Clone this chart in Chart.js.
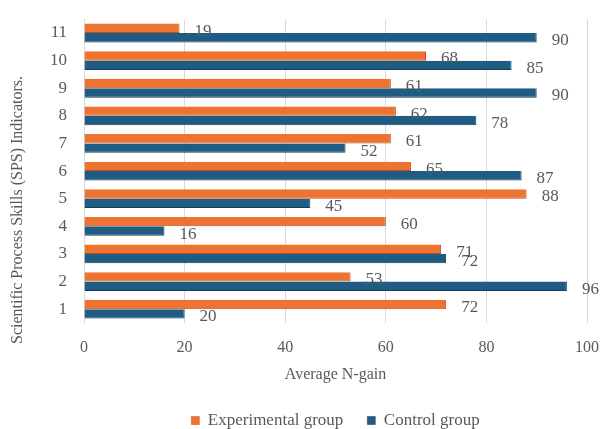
<!DOCTYPE html>
<html>
<head>
<meta charset="utf-8">
<script src="https://cdn.jsdelivr.net/npm/chart.js@4"></script>
<style>
  html, body { margin: 0; padding: 0; background: #fff; }
  #wrap { width: 600px; height: 429px; position: relative; }
</style>
</head>
<body>
<div id="wrap"><canvas id="chart"></canvas></div>
<script>
// data
const indicators = ['1', '2', '3', '4', '5', '6', '7', '8', '9', '10', '11'];
const experimental = [72, 53, 71, 60, 88, 65, 61, 62, 61, 68, 19];
const control = [20, 96, 72, 16, 45, 87, 52, 78, 90, 85, 90];
const xTicks = [0, 20, 40, 60, 80, 100];
const yTitle = 'Scientific Process Skills (SPS) Indicators.';

const serif = "'Liberation Serif', 'DejaVu Serif', serif";
const grey = '#595959';
Chart.defaults.font.family = serif;
Chart.defaults.color = grey;

// value labels at the end of each bar + the rotated y title
const barLabels = {
    id: 'barLabels',
    afterDatasetsDraw(chart) {
        const ctx = chart.ctx;
        ctx.save();
        ctx.font = '17px ' + serif;
        ctx.fillStyle = grey;
        ctx.textAlign = 'left';
        ctx.textBaseline = 'middle';
        chart.data.datasets.forEach((ds, i) => {
            chart.getDatasetMeta(i).data.forEach((bar, j) => {
                ctx.fillText(ds.data[j], bar.x + 15, bar.y + 3);
            });
        });
        // y axis title
        ctx.translate(18, 210);
        ctx.rotate(-Math.PI / 2);
        ctx.textAlign = 'center';
        ctx.font = '16px ' + serif;
        ctx.fillText(yTitle, 0, 0);
        ctx.restore();
    }
};

new Chart(document.getElementById('chart'), {
    type: 'bar',
    data: {
        labels: indicators,
        datasets: [
            { label: 'Experimental group', data: experimental, backgroundColor: '#EF7330', borderColor: '#B8521E', borderWidth: { right: 1, bottom: 1 }, borderSkipped: 'start' },
            { label: 'Control group', data: control, backgroundColor: '#1F5C83', borderColor: '#123E5C', borderWidth: { right: 1, bottom: 1 }, borderSkipped: 'start' }
        ]
    },
    options: {
        indexAxis: 'y',
        responsive: true,
        maintainAspectRatio: false,
        animation: false,
        categoryPercentage: 0.68,
        barPercentage: 1,
        layout: { padding: { left: 0, right: 13, top: 14, bottom: 0 } },
        scales: {
            x: {
                min: 0, max: 100,
                afterBuildTicks: (scale) => { scale.ticks = xTicks.map(v => ({ value: v })); },
                afterFit: (scale) => { scale.height = 65; scale.paddingRight = 0; scale.paddingLeft = 0; },
                grid: { color: '#d9d9d9', drawTicks: false },
                border: { display: false },
                ticks: { color: grey, font: { family: serif, size: 16 }, padding: 15 },
                title: { display: true, text: 'Average N-gain', color: grey, font: { family: serif, size: 16 }, padding: { top: 4, bottom: 4 } }
            },
            y: {
                reverse: true,
                afterFit: (scale) => { scale.width = 84; },
                grid: { display: false },
                border: { color: '#d9d9d9' },
                ticks: { color: grey, font: { family: serif, size: 17 }, padding: 9 }
            }
        },
        plugins: {
            legend: {
                position: 'bottom',
                fullSize: false,
                maxHeight: 41,
                labels: { color: grey, font: { family: serif, size: 17 }, boxWidth: 8, boxHeight: 8, padding: 24 }
            },
            tooltip: { enabled: false }
        }
    },
    plugins: [barLabels]
});
</script>
</body>
</html>
